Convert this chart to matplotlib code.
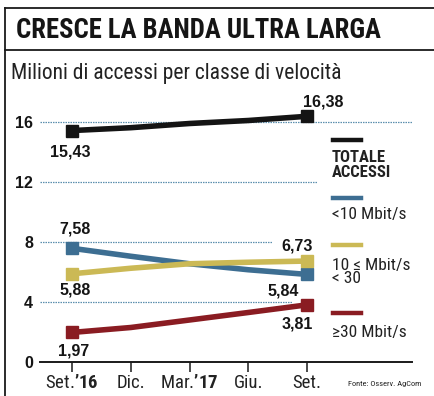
import matplotlib
matplotlib.use("Agg")
import matplotlib.pyplot as plt
from matplotlib import font_manager as fm
from matplotlib.lines import Line2D

# --- data -----------------------------------------------------------------
months = ["Set.", "Dic.", "Mar.", "Giu.", "Set."]
years = ["’16", "", "’17", "", ""]
totale = [15.43, 15.62, 15.90, 16.10, 16.38]
sotto_10 = [7.58, 7.05, 6.55, 6.15, 5.84]
da_10_a_30 = [5.88, 6.25, 6.55, 6.65, 6.73]
oltre_30 = [1.97, 2.30, 2.80, 3.30, 3.81]
y_ticks = [0, 4, 8, 12, 16]
series_names = ["TOTALE\nACCESSI", "<10 Mbit/s", "10 ≤ Mbit/s\n< 30", "≥30 Mbit/s"]

title = "CRESCE LA BANDA ULTRA LARGA"
subtitle = "Milioni di accessi per classe di velocità"
source = "Fonte: Osserv. AgCom"

# --- fonts: prefer a condensed face --------------------------------------
CONDENSED = ("condensed", "semi-condensed", "extra-condensed", "ultra-condensed")


def pick_narrow():
    names = {f.name for f in fm.fontManager.ttflist}
    for n in ["Roboto Condensed", "Liberation Sans Narrow", "Open Sans Condensed",
              "Noto Sans Condensed", "DejaVu Sans Condensed"]:
        if n in names:
            return n, "normal", True
    for f in fm.fontManager.ttflist:
        st = f.stretch
        if st in CONDENSED or (isinstance(st, int) and st < 500):
            return f.name, st, True
    for n in ["Roboto", "Liberation Sans"]:
        if n in names:
            return n, "normal", False
    return "DejaVu Sans", "normal", False


NARROW, STRETCH, IS_CONDENSED = pick_narrow()
K = 1.0 if IS_CONDENSED else 0.86
available = {f.name for f in fm.fontManager.ttflist}
WIDE = "Liberation Sans" if "Liberation Sans" in available else "DejaVu Sans"

plt.rcParams["mathtext.fontset"] = "custom"
plt.rcParams["mathtext.rm"] = NARROW
plt.rcParams["mathtext.bf"] = NARROW + ":bold"
plt.rcParams["font.stretch"] = STRETCH if isinstance(STRETCH, str) else "normal"

W, H = 434, 396
fig = plt.figure(figsize=(W / 100, H / 100), dpi=100)
fig.patch.set_facecolor("white")


def fx(px):
    return px / W


def fy(py):
    return 1 - py / H


narrow_kw = dict(family=NARROW, stretch=STRETCH)

# --- header frame ---------------------------------------------------------
frame_kw = dict(color="#1a1a1a", lw=1.3, transform=fig.transFigure)
fig.add_artist(Line2D([fx(5), 1], [fy(8), fy(8)], **frame_kw))
fig.add_artist(Line2D([fx(5), 1], [fy(50), fy(50)], **frame_kw))
fig.add_artist(Line2D([fx(5), fx(5)], [fy(8), 0], **frame_kw))

fig.text(fx(16), fy(31), title, weight="bold", fontsize=19.2 * K,
         color="#151515", va="center", ha="left", **narrow_kw)
fig.text(fx(11), fy(73), subtitle, fontsize=15.5 * K,
         color="#222222", va="center", ha="left", **narrow_kw)

# --- axes -----------------------------------------------------------------
x0_px, x_step = 72, 58.75          # pixel position of first month and spacing
y0_px, y_unit = 362, 15.0          # pixel position of zero and pixels per unit
ax_left_px, ax_right_px, ax_top_px = 40, 412, 95
xmin = (ax_left_px - x0_px) / x_step
xmax = (ax_right_px - x0_px) / x_step
ymax = (y0_px - ax_top_px) / y_unit

ax = fig.add_axes([fx(ax_left_px), fy(y0_px), fx(ax_right_px - ax_left_px),
                   (y0_px - ax_top_px) / H])
ax.set_xlim(xmin, xmax)
ax.set_ylim(0, ymax)
ax.patch.set_alpha(0)
for side in ("top", "right", "left"):
    ax.spines[side].set_visible(False)
ax.spines["bottom"].set_color("#1a1a1a")
ax.spines["bottom"].set_linewidth(1.4)

xs = list(range(len(months)))

# dotted guide lines of uneven length
grid_ends = {4: 3.74, 8: 3.40, 12: 4.17, 16: 5.80}
for yv, xe in grid_ends.items():
    ax.plot([xmin, xe], [yv, yv], color="#5b8fae", lw=0.9,
            linestyle=(0, (1.2, 0.8)), zorder=1)

ax.set_yticks(y_ticks)
ax.set_yticklabels([str(v) for v in y_ticks], family=WIDE, weight="bold",
                   fontsize=11.5, color="#151515")
ax.tick_params(axis="y", length=0, pad=5)

ax.set_xticks(xs)
ax.set_xticklabels([m + (r"$\mathbf{" + y + "}$" if y else "")
                    for m, y in zip(months, years)],
                   fontsize=13.5 * K, color="#222222", **narrow_kw)
ax.tick_params(axis="x", length=7, width=1.1, color="#1a1a1a", pad=2,
               direction="out")

colors = ["#141414", "#3d6e92", "#cbb955", "#8a1c22"]
all_series = [totale, sotto_10, da_10_a_30, oltre_30]
for vals, c in zip(all_series, colors):
    ax.plot(xs, vals, color=c, lw=4.0, solid_capstyle="butt", zorder=3,
            marker="s", markersize=8, markevery=[0, len(vals) - 1],
            markerfacecolor=c, markeredgecolor=c)

# value labels at both ends: (series, index, dx px, dy px)
label_spec = [
    (totale, 0, -2, -21),
    (totale, 4, 16, 14),
    (sotto_10, 0, 3, 19),
    (sotto_10, 4, -24, -17),
    (da_10_a_30, 0, 3, -16),
    (da_10_a_30, 4, -10, 15),
    (oltre_30, 0, 2, -19),
    (oltre_30, 4, -10, -19),
]
for vals, i, dx, dy in label_spec:
    ax.annotate(f"{vals[i]:.2f}".replace(".", ","), (xs[i], vals[i]),
                xytext=(dx * 0.72, dy * 0.72), textcoords="offset points",
                ha="center", va="center", family=WIDE, weight="bold",
                fontsize=11.5, color="#151515", zorder=5)

# --- legend ---------------------------------------------------------------
legend_rows = [(140, 165), (198, 214), (245, 272), (313, 333)]
for (seg_y, text_y), name, c in zip(legend_rows, series_names, colors):
    fig.add_artist(Line2D([fx(333), fx(361)], [fy(seg_y), fy(seg_y)],
                          color=c, lw=3.2, transform=fig.transFigure))
    bold = name.startswith("TOTALE")
    fig.text(fx(332), fy(text_y), name,
             weight="bold" if bold else "normal",
             fontsize=(12 if bold else 12.5) * K, color="#222222",
             ha="left", va="center", linespacing=0.95 if bold else 0.9,
             **narrow_kw)

fig.text(fx(348), fy(384), source, fontsize=6.0 * K,
         color="#222222", ha="left", va="center", **narrow_kw)

fig.savefig("out.png", dpi=100, facecolor="white")
